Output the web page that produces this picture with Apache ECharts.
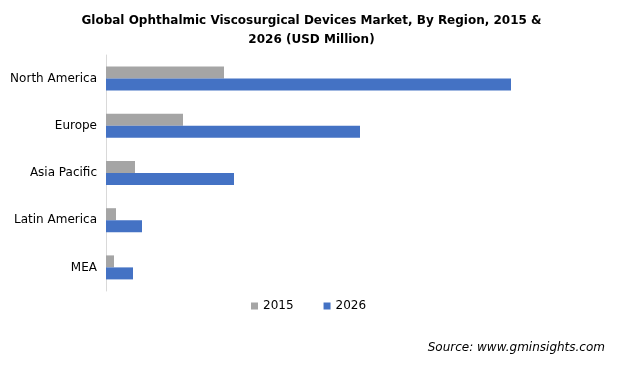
<!DOCTYPE html>
<html><head><meta charset="utf-8">
<script src="https://cdn.jsdelivr.net/npm/echarts@6/dist/echarts.min.js"></script>
<style>html,body{margin:0;padding:0;background:#fff}#c{width:623px;height:367px}</style>
</head><body><div id="c"></div>
<script>
const categories = ["North America", "Europe", "Asia Pacific", "Latin America", "MEA"];
const series2015 = [118, 77, 29, 10, 8];
const series2026 = [405, 254, 128, 36, 27];
const seriesNames = ["2015", "2026"];

const chart = echarts.init(document.getElementById('c'));
chart.setOption({
  animation: false,
  title: {
    text: "Global Ophthalmic Viscosurgical Devices Market, By Region, 2015 &\n2026 (USD Million)",
    left: 'center', top: 6,
    textStyle: { fontFamily: 'DejaVu Sans', fontWeight: 'bold', fontSize: 12, color: '#000', lineHeight: 19 }
  },
  legend: {
    data: seriesNames, top: 295, left: 246,
    itemWidth: 7, itemHeight: 7, itemGap: 30,
    icon: 'rect',
    textStyle: { fontFamily: 'DejaVu Sans', fontSize: 12, color: '#000' }
  },
  graphic: [{
    type: 'text', right: 18, top: 342,
    style: { text: 'Source: www.gminsights.com', font: 'italic 12px "DejaVu Sans"', fill: '#000' }
  }],
  grid: { left: 106, right: 67, top: 55, bottom: 76, containLabel: false },
  xAxis: { type: 'value', min: 0, max: 450, show: false },
  yAxis: {
    type: 'category', data: categories, inverse: true,
    axisLine: { lineStyle: { color: '#d9d9d9' } },
    axisTick: { show: false },
    axisLabel: { fontFamily: 'DejaVu Sans', fontSize: 12, color: '#000', margin: 9 }
  },
  series: [
    { name: seriesNames[0], type: 'bar', data: series2015, barWidth: 12, barGap: '0%', itemStyle: { color: '#A5A5A5' } },
    { name: seriesNames[1], type: 'bar', data: series2026, barWidth: 12, itemStyle: { color: '#4472C4' } }
  ]
});
</script></body></html>
